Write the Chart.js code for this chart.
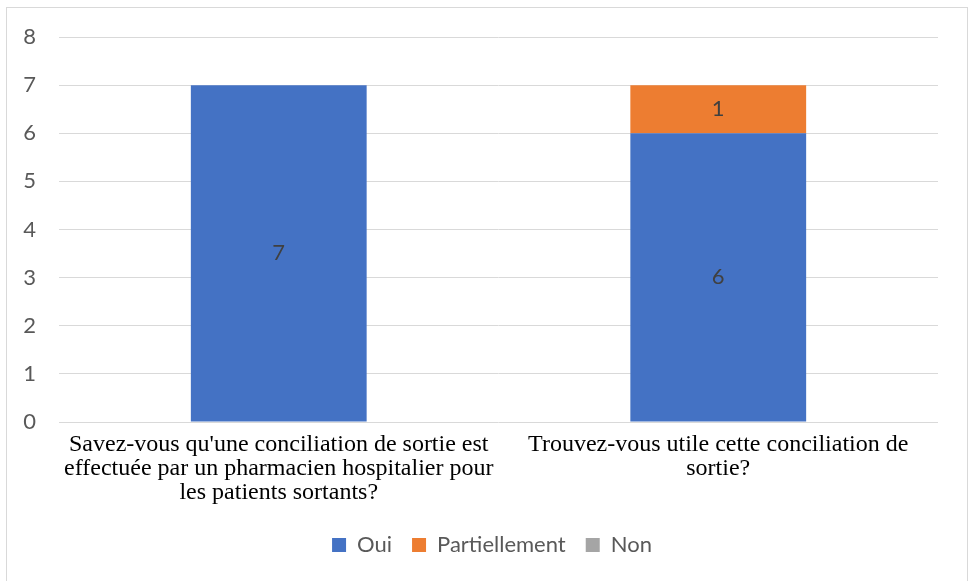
<!DOCTYPE html>
<html>
<head>
<meta charset="utf-8">
<script src="https://cdn.jsdelivr.net/npm/chart.js@4"></script>
<style>
  html, body { margin: 0; padding: 0; background: #fff; }
  #wrap { position: relative; width: 969px; height: 581px; }
  #frame { position: absolute; left: 6px; top: 7px; width: 962px; height: 576px;
           border: 1px solid #d9d9d9; box-sizing: border-box; pointer-events: none; }
  canvas { position: absolute; left: 0; top: 0; }
</style>
</head>
<body>
<div id="wrap">
  <canvas id="chart" width="969" height="581"></canvas>
  <div id="frame"></div>
</div>
<script>
const categories = [
  ["Savez-vous qu'une conciliation de sortie est", "effectuée par un pharmacien hospitalier pour", "les patients sortants?"],
  ["Trouvez-vous utile cette conciliation de", "sortie?"]
];
const oui = [7, 6];
const partiellement = [0, 1];
const non = [0, 0];
const yTicks = [0, 1, 2, 3, 4, 5, 6, 7, 8];

const sans = 'Lato, "Open Sans", sans-serif';

// little stand-in for the datalabels plugin
const valueLabels = {
  id: 'valueLabels',
  afterDatasetsDraw(chart) {
    const c = chart.ctx;
    c.save();
    c.font = '22px ' + sans;
    c.fillStyle = '#404040';
    c.textAlign = 'center';
    c.textBaseline = 'middle';
    chart.data.datasets.forEach((ds, i) => {
      const meta = chart.getDatasetMeta(i);
      meta.data.forEach((bar, j) => {
        const v = ds.data[j];
        if (!v) return;
        c.fillText(String(v), bar.x, (bar.y + bar.base) / 2);
      });
    });
    c.restore();
  }
};

// legend is centred on the whole frame in the original, not on the plot
const legendShift = {
  id: 'legendShift',
  afterLayout(chart) {
    chart.legend.left += 23;
    chart.legend.right += 23;
  }
};

new Chart(document.getElementById('chart'), {
  type: 'bar',
  data: {
    labels: categories,
    datasets: [
      { label: 'Oui', data: oui, backgroundColor: '#4472C4' },
      { label: 'Partiellement', data: partiellement, backgroundColor: '#ED7D31' },
      { label: 'Non', data: non, backgroundColor: '#A5A5A5' }
    ]
  },
  options: {
    responsive: false,
    animation: false,
    layout: { padding: { top: 37, right: 31, left: 0, bottom: 15 } },
    datasets: { bar: { categoryPercentage: 0.4, barPercentage: 1 } },
    scales: {
      x: {
        stacked: true,
        grid: { display: false, drawTicks: false },
        border: { display: false },
        ticks: {
          padding: 10,
          color: '#000',
          maxRotation: 0,
          autoSkip: false,
          font: { family: '"Liberation Serif", "Times New Roman", serif', size: 24, lineHeight: 1.02 }
        },
        afterFit(scale) { scale.height = 92; }
      },
      y: {
        stacked: true,
        min: 0,
        max: 8,
        afterBuildTicks(scale) { scale.ticks = yTicks.map(v => ({ value: v })); },
        grid: { color: '#d9d9d9', lineWidth: 1, drawTicks: false },
        border: { display: false },
        ticks: { padding: 23, color: '#595959', font: { family: sans, size: 22 } },
        afterFit(scale) { scale.width = 59; }
      }
    },
    plugins: {
      legend: {
        position: 'bottom',
        labels: {
          boxWidth: 14,
          boxHeight: 14,
          padding: 20,
          color: '#595959',
          font: { family: sans, size: 22 }
        }
      },
      tooltip: { enabled: false }
    }
  },
  plugins: [valueLabels, legendShift]
});
</script>
</body>
</html>
